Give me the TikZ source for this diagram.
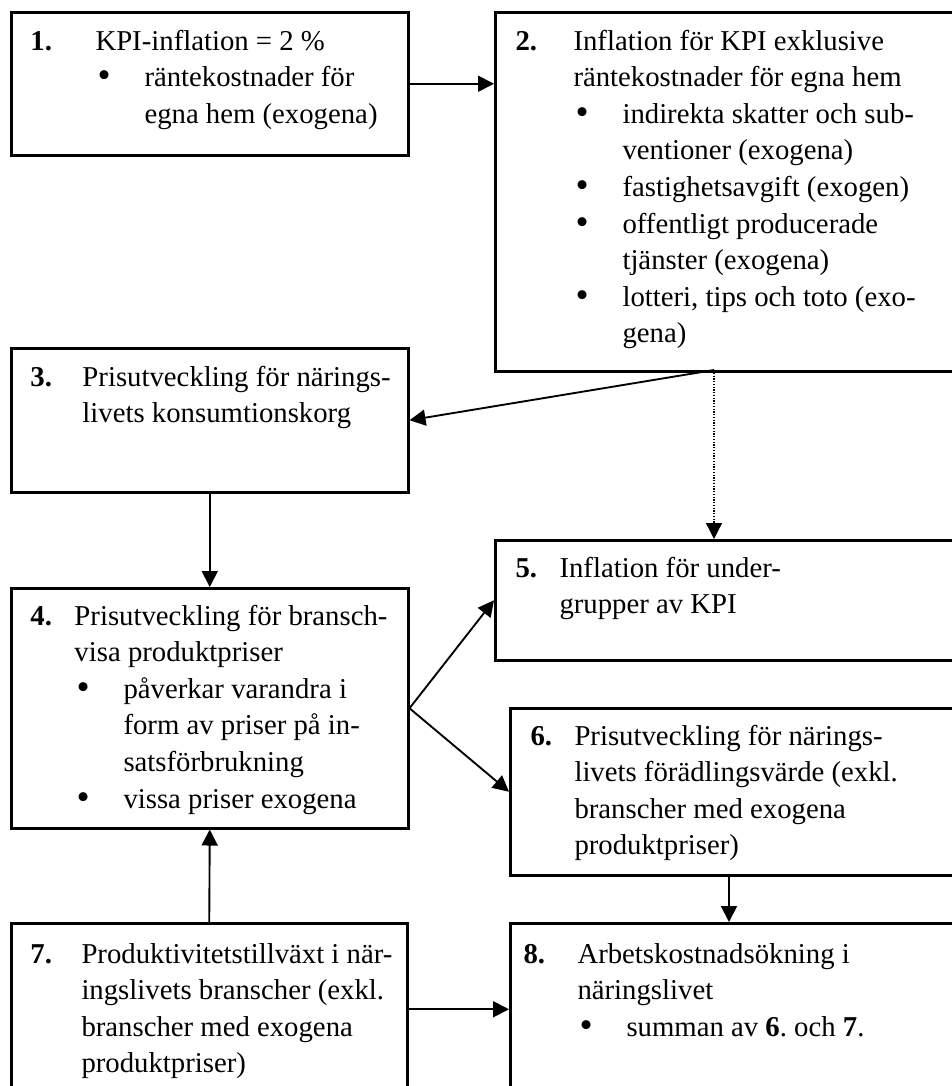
\documentclass[tikz,border=0pt]{standalone}
\usepackage{fontspec}
\setmainfont{Liberation Serif}
\usetikzlibrary{arrows.meta}
\newcommand{\blt}{\makebox[19.6pt][l]{\hspace{0.8pt}\raisebox{-0.5pt}{\scalebox{1.3}{\textbullet}}}}
\newcommand{\bltgap}{\hspace*{19.6pt}}

\begin{document}
\begin{tikzpicture}[x=0.4pt,y=-0.4pt,
  box/.style={draw, line width=1pt, rectangle, inner sep=0pt, anchor=north west},
  txt/.style={anchor=base west, inner sep=0pt, font=\fontsize{11.5}{14.64}\selectfont},
  conn/.style={line width=0.75pt, -{Triangle[length=6.4pt,width=6.4pt]}},
  dotconn/.style={conn, dash pattern=on 0.5pt off 0.6pt, line width=0.5pt}]
\useasboundingbox (0,0) rectangle (952,1086);
\node[box, minimum width=158.8pt, minimum height=57.2pt] (b1) at (10,11) {};
\node[box, minimum width=187.2pt, minimum height=143.6pt] (b2) at (494,11) {};
\node[box, minimum width=158.8pt, minimum height=57.6pt] (b3) at (10,347) {};
\node[box, minimum width=158.8pt, minimum height=96pt] (b4) at (10,587) {};
\node[box, minimum width=187.2pt, minimum height=48pt] (b5) at (494,539) {};
\node[box, minimum width=181.2pt, minimum height=66.8pt] (b6) at (509,707) {};
\node[box, minimum width=158.4pt, minimum height=68.8pt] (b7) at (10,922) {};
\node[box, minimum width=181.2pt, minimum height=68.8pt] (b8) at (509,922) {};
\node[txt] (t1) at (30,50) {\begin{tabular}[t]{@{}l@{}l@{}}
\makebox[26pt][l]{\textbf{1.}} & KPI-inflation = 2~\% \\
 & \blt räntekostnader för \\
 & \bltgap egna hem (exogena)
\end{tabular}};
\node[txt] (t2) at (515,50) {\begin{tabular}[t]{@{}l@{}l@{}}
\makebox[23.2pt][l]{\textbf{2.}} & Inflation för KPI exklusive \\
 & räntekostnader för egna hem \\
 & \blt indirekta skatter och sub- \\
 & \bltgap ventioner (exogena) \\
 & \blt fastighetsavgift (exogen) \\
 & \blt offentligt producerade \\
 & \bltgap tjänster (exogena) \\
 & \blt lotteri, tips och toto (exo- \\
 & \bltgap gena)
\end{tabular}};
\node[txt] (t3) at (30,386) {\begin{tabular}[t]{@{}l@{}l@{}}
\makebox[20.8pt][l]{\textbf{3.}} & Prisutveckling för närings- \\
 & livets konsumtionskorg
\end{tabular}};
\node[txt] (t4) at (30,625) {\begin{tabular}[t]{@{}l@{}l@{}}
\makebox[17.6pt][l]{\textbf{4.}} & Prisutveckling för bransch- \\
 & visa produktpriser \\
 & \blt påverkar varandra i \\
 & \bltgap form av priser på in- \\
 & \bltgap satsförbrukning \\
 & \blt vissa priser exogena
\end{tabular}};
\node[txt] (t5) at (515,577) {\begin{tabular}[t]{@{}l@{}l@{}}
\makebox[17.6pt][l]{\textbf{5.}} & Inflation för under- \\
 & grupper av KPI
\end{tabular}};
\node[txt] (t6) at (530,745) {\begin{tabular}[t]{@{}l@{}l@{}}
\makebox[17.6pt][l]{\textbf{6.}} & Prisutveckling för närings- \\
 & livets förädlingsvärde (exkl. \\
 & branscher med exogena \\
 & produktpriser)
\end{tabular}};
\node[txt] (t7) at (30,963) {\begin{tabular}[t]{@{}l@{}l@{}}
\makebox[20.4pt][l]{\textbf{7.}} & Produktivitetstillväxt i när- \\
 & ingslivets branscher (exkl. \\
 & branscher med exogena \\
 & produktpriser)
\end{tabular}};
\node[txt] (t8) at (523,963) {\begin{tabular}[t]{@{}l@{}l@{}}
\makebox[21.6pt][l]{\textbf{8.}} & Arbetskostnadsökning i \\
 & näringslivet \\
 & \blt summan av \textbf{6}.\ och \textbf{7}.
\end{tabular}};
\coordinate (s2) at (714,370);
\coordinate (s6) at (729,874);
\draw[conn] (b1.east) -- (b1.east -| b2.west);
\draw[conn] (s2) -- (b3.east);
\draw[dotconn] (s2) -- (s2 |- b5.north);
\draw[conn] (b3.south) -- (b4.north);
\draw[conn] (b4.east) -- (b5.west);
\draw[conn] (b4.east) -- (b6.west);
\draw[conn] (s6) -- (s6 |- b8.north);
\draw[conn] (b7.north) -- (b4.south);
\draw[conn] (b7.east) -- (b7.east -| b8.west);
\end{tikzpicture}
\end{document}
